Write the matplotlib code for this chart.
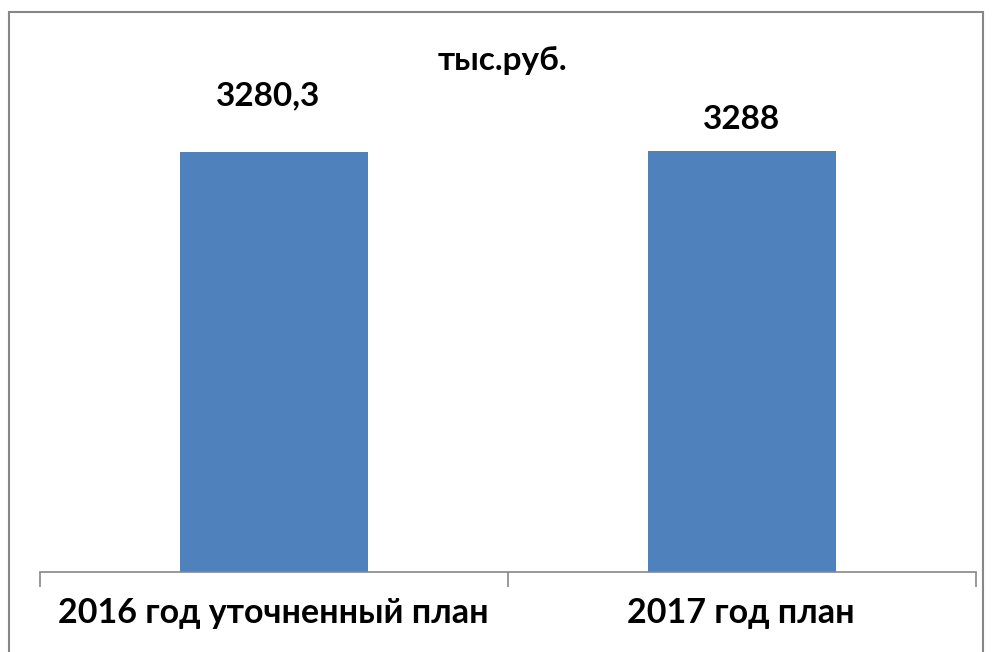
import matplotlib
matplotlib.use("Agg")
import matplotlib.pyplot as plt
from matplotlib.patches import Rectangle

categories = ["2016 год уточненный план", "2017 год план"]
values = [3280.3, 3288]
value_labels = ["3280,3", "3288"]
title = "тыс.руб."

FONT = ["Lato", "Noto Sans", "DejaVu Sans"]
plt.rcParams["font.family"] = FONT

W, H = 993, 652
fig = plt.figure(figsize=(W / 100, H / 100), dpi=100)
fig.patch.set_facecolor("white")

# outer frame
fig.add_artist(Rectangle((9 / W, -0.05), (983 - 9) / W, 1.05 - 12 / H,
                         transform=fig.transFigure, fill=False,
                         edgecolor="#878787", linewidth=1.5))

ax = fig.add_axes([40 / W, 1 - 572 / H, (976 - 40) / W, 512 / H])
x = list(range(len(categories)))
ax.bar(x, values, width=0.4, color="#4F81BD")
ax.set_xlim(-0.5, len(categories) - 0.5)
ax.set_ylim(0, 4000)

for s in ["top", "right", "left"]:
    ax.spines[s].set_visible(False)
ax.spines["bottom"].set_color("#878787")
ax.spines["bottom"].set_linewidth(1.2)
ax.set_yticks([])
ax.set_xticks([-0.5, 0.5, 1.5], minor=False)
ax.set_xticklabels([])
ax.tick_params(axis="x", length=11, width=1.2, color="#878787")
for xi, c in zip(x, categories):
    ax.annotate(c, (xi, 0), xytext=(-1, -51), textcoords="offset pixels",
                ha="center", va="baseline", fontsize=24.5, fontweight="bold")

offsets = [47, 22]
xoffs = [-6, 0]
for xi, v, lab, oy, ox in zip(x, values, value_labels, offsets, xoffs):
    ax.annotate(lab, (xi, v), xytext=(ox, oy), textcoords="offset pixels",
                ha="center", va="baseline", fontsize=24, fontweight="bold")

fig.text(502 / W, 1 - 70 / H, title, ha="center", va="baseline",
         fontsize=24, fontweight="bold")

fig.savefig("out.png", dpi=100)
